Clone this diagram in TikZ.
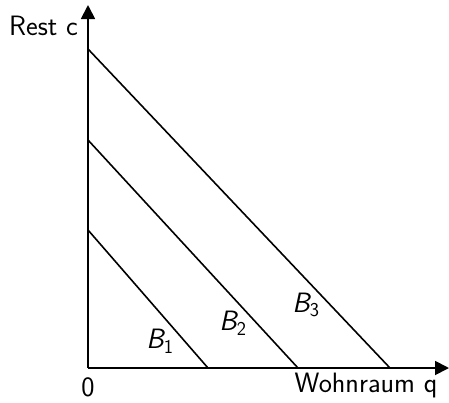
\documentclass[tikz,border=0pt]{standalone}
\usetikzlibrary{arrows.meta}
\begin{document}
\begin{tikzpicture}[x=1pt,y=-1pt,
  lbl/.style={font=\sffamily\fontsize{28}{32}\selectfont, inner sep=0pt},
  budget/.style={line width=1.6pt},
  axis/.style={line width=1.8pt, -{Triangle[length=14pt,width=14pt]}}]
\useasboundingbox (0,0) rectangle (449,402);
\coordinate (O) at (88,368);
\coordinate (Ytip) at (88,5);
\coordinate (Xtip) at (449,368);
\coordinate (b1s) at (88,230); \coordinate (b1e) at (208,368);
\coordinate (b2s) at (88,140); \coordinate (b2e) at (298,368);
\coordinate (b3s) at (88,49);  \coordinate (b3e) at (390,368);
\draw[budget] (b1s) -- (b1e);
\draw[budget] (b2s) -- (b2e);
\draw[budget] (b3s) -- (b3e);
\draw[axis] (O) -- (Ytip);
\draw[axis] (O) -- (Xtip);
\node[lbl, anchor=base] (yl) at (43.5,35) {Rest c};
\node[lbl, anchor=base] (zero) at (88,396) {0};
\node[lbl, anchor=base] (xl) at (366,392) {Wohnraum q};
\node[lbl] (B1) at (160,341) {\itshape B\textsubscript{\upshape 1}};
\node[lbl] (B2) at (233,323) {\itshape B\textsubscript{\upshape 2}};
\node[lbl] (B3) at (306,305) {\itshape B\textsubscript{\upshape 3}};
\end{tikzpicture}
\end{document}
